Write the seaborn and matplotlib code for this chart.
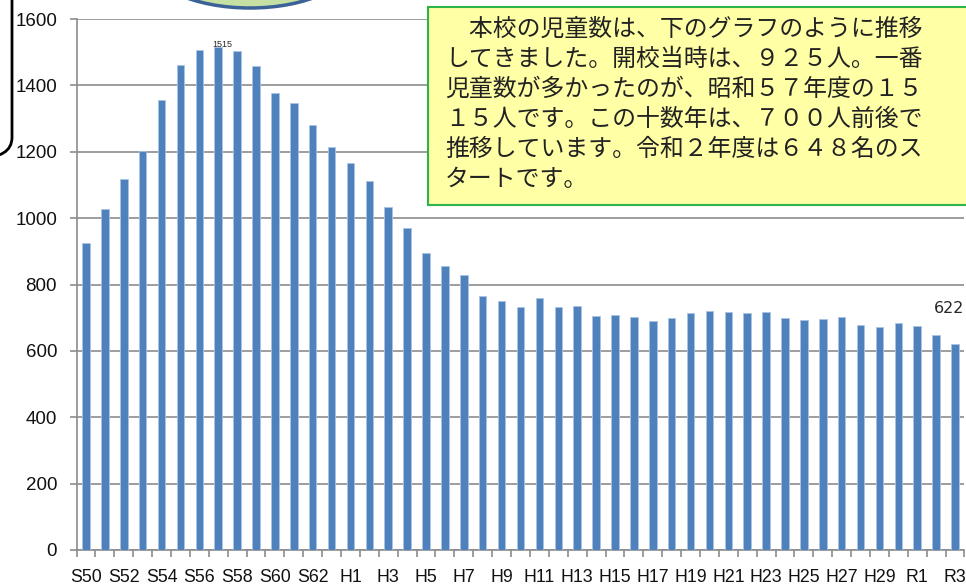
import numpy as np
import seaborn as sns
import matplotlib.pyplot as plt
from matplotlib.patches import Rectangle, Ellipse, FancyBboxPatch

# %% data
years = (["S%d" % y for y in range(50, 64)]
         + ["H%d" % y for y in range(1, 31)]
         + ["R1", "R2", "R3"])
counts = [925, 1027, 1119, 1202, 1355, 1461, 1506, 1515, 1505, 1458,
          1377, 1346, 1280, 1215, 1165, 1111, 1034, 969, 895, 856,
          829, 766, 751, 731, 759, 731, 735, 704, 707, 701,
          690, 699, 714, 719, 718, 714, 716, 698, 693, 696,
          701, 679, 673, 685, 676, 648, 622]
yticks = [0, 200, 400, 600, 800, 1000, 1200, 1400, 1600]
note_lines = [
    "\u3000本校の児童数は、下のグラフのように推移",
    "してきました。開校当時は、９２５人。一番",
    "児童数が多かったのが、昭和５７年度の１５",
    "１５人です。この十数年は、７００人前後で",
    "推移しています。令和２年度は６４８名のス",
    "タートです。",
]

# %% style
sns.set_style("white")
plt.rcParams['font.family'] = ['Liberation Sans', 'DejaVu Sans']
grid_c = '#8c8c8c'
bar_c = '#4f81bd'

W, H = 966, 585
fig = plt.figure(figsize=(W / 100, H / 100), dpi=100)
ax = fig.add_axes([76.5 / W, 35 / H, 888 / W, 531 / H])

def px(x, y):
    # pixel position (from top-left) -> figure fraction
    return x / W, 1 - y / H

# %% bars
sns.barplot(x=years, y=counts, color=bar_c, saturation=1, width=0.4,
            edgecolor='#a9c3e2', linewidth=0.6, ax=ax, zorder=3)

ax.set_xlim(-0.5, len(years) - 0.5)
ax.set_ylim(0, 1600)
ax.set_yticks(yticks)
ax.set_xticks(range(0, len(years), 2))
ax.set_xticklabels(years[::2])
ax.set_xticks(np.arange(-0.5, len(years), 1), minor=True)

ax.grid(axis='y', color=grid_c, linewidth=1.2, zorder=0)
ax.set_axisbelow(True)
for side in ['top', 'right']:
    ax.spines[side].set_visible(False)
for side in ['left', 'bottom']:
    ax.spines[side].set_color(grid_c)
    ax.spines[side].set_linewidth(1.2)

ax.tick_params(axis='y', length=5, width=1.2, color=grid_c, pad=9,
               labelsize=13.5, labelcolor='#111111', left=True)
ax.tick_params(axis='x', which='major', length=0, pad=14, labelsize=12.8,
               labelcolor='#111111')
ax.tick_params(axis='x', which='minor', length=5, width=1.2, color=grid_c,
               bottom=True, direction='out')
ax.set_xlabel('')
ax.set_ylabel('')

# data labels
i_max = int(np.argmax(counts))
ax.annotate(str(counts[i_max]), xy=(i_max, counts[i_max]), xytext=(4, -2),
            textcoords='offset pixels', ha='center', va='bottom',
            fontsize=6.5, zorder=5)
ax.annotate(str(counts[-1]), xy=(len(counts) - 1, counts[-1]), xytext=(-6, 35),
            textcoords='offset pixels', ha='center', va='center',
            fontsize=11.5, family=['DejaVu Sans'], zorder=5)

# %% decorations (shapes from the page around the chart)
fig.add_artist(Ellipse(px(250, -40), 206 / W, 96 / H, transform=fig.transFigure,
                       facecolor='#c6e0a4', edgecolor='#3a6297', linewidth=2.5))
x0, y0 = px(-300, 158)
x1, y1 = px(12, -50)
fig.add_artist(FancyBboxPatch((x0, y0), x1 - x0, y1 - y0,
                              boxstyle='round,pad=0,rounding_size=0.035',
                              transform=fig.transFigure, facecolor='none',
                              edgecolor='black', linewidth=2))

bx, by = px(428, 205)
fig.add_artist(Rectangle((bx, by), 0.6, 198 / H, transform=fig.transFigure,
                         facecolor='#ffffa6', edgecolor='#2db34a',
                         linewidth=1.5, zorder=10))
for k, line in enumerate(note_lines):
    tx, ty = px(445, 29 + 30.2 * k)
    fig.text(tx, ty, line, ha='left', va='center', fontsize=17.2,
             color='#222222', zorder=11,
             family=['Noto Sans CJK JP', 'DejaVu Sans'])

fig.savefig('out.png', dpi=100)
